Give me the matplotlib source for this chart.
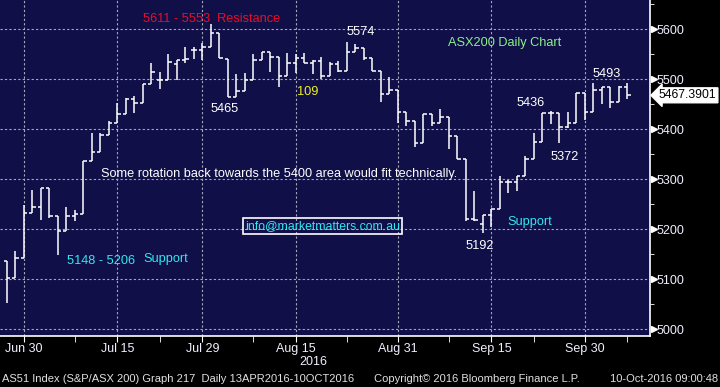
import numpy as np
import pandas as pd
import matplotlib
matplotlib.use('Agg')
import matplotlib.pyplot as plt
from matplotlib.transforms import blended_transform_factory

# daily bars, AS51 index, 28 Jun 2016 - 7 Oct 2016
dates = pd.bdate_range('2016-06-28', '2016-10-07')
opens = [5136, 5102, 5142, 5232, 5244, 5282, 5226, 5196, 5226, 5230,
         5336, 5354, 5388, 5412, 5430, 5460, 5452, 5490, 5498, 5498,
         5530, 5538, 5558, 5558, 5564, 5592, 5540, 5464, 5476, 5498,
         5538, 5554, 5544, 5506, 5532, 5542, 5532, 5536, 5506, 5530,
         5516, 5554, 5562, 5542, 5516, 5470, 5478, 5434, 5416, 5372,
         5430, 5412, 5424, 5386, 5340, 5220, 5210, 5228, 5240, 5294,
         5294, 5306, 5340, 5374, 5432, 5432, 5404, 5412, 5472, 5434,
         5478, 5484, 5454, 5484]
highs = [5136, 5156, 5248, 5278, 5282, 5282, 5226, 5244, 5238, 5336,
         5392, 5392, 5416, 5452, 5462, 5466, 5490, 5532, 5514, 5550,
         5538, 5564, 5564, 5572, 5611, 5592, 5540, 5510, 5512, 5550,
         5554, 5554, 5544, 5552, 5550, 5552, 5538, 5544, 5534, 5536,
         5574, 5570, 5562, 5542, 5516, 5504, 5478, 5434, 5416, 5430,
         5430, 5440, 5424, 5386, 5340, 5276, 5228, 5240, 5306, 5298,
         5306, 5346, 5392, 5432, 5436, 5432, 5434, 5472, 5472, 5492,
         5484, 5484, 5486, 5493]
lows = [5052, 5102, 5142, 5232, 5218, 5222, 5148, 5196, 5216, 5230,
        5336, 5354, 5388, 5412, 5430, 5432, 5452, 5490, 5480, 5498,
        5498, 5532, 5540, 5538, 5564, 5542, 5465, 5464, 5476, 5498,
        5538, 5514, 5484, 5506, 5512, 5532, 5510, 5500, 5506, 5514,
        5516, 5554, 5538, 5516, 5454, 5470, 5412, 5406, 5364, 5372,
        5406, 5412, 5360, 5340, 5216, 5216, 5192, 5204, 5240, 5272,
        5276, 5306, 5340, 5374, 5410, 5372, 5402, 5412, 5418, 5434,
        5450, 5442, 5454, 5460]
closes = [5102, 5142, 5232, 5244, 5282, 5226, 5196, 5226, 5230, 5336,
          5354, 5388, 5412, 5430, 5460, 5452, 5490, 5514, 5498, 5534,
          5538, 5540, 5558, 5564, 5592, 5542, 5464, 5476, 5498, 5538,
          5554, 5544, 5506, 5532, 5542, 5532, 5536, 5506, 5530, 5516,
          5554, 5562, 5542, 5516, 5470, 5478, 5434, 5416, 5372, 5430,
          5412, 5424, 5386, 5340, 5220, 5218, 5228, 5240, 5294, 5294,
          5306, 5340, 5374, 5432, 5432, 5404, 5412, 5472, 5434, 5478,
          5484, 5454, 5484, 5467.3901]

major_days = ['2016-06-30', '2016-07-15', '2016-07-29', '2016-08-15',
              '2016-08-31', '2016-09-15', '2016-09-30']
major_labels = ['Jun 30', 'Jul 15', 'Jul 29', 'Aug 15', 'Aug 31', 'Sep 15', 'Sep 30']
minor_days = ['2016-07-08', '2016-07-22', '2016-08-08', '2016-08-23',
              '2016-09-08', '2016-09-22', '2016-10-07']
y_major = [5000, 5100, 5200, 5300, 5400, 5500, 5600]
y_minor = [5050, 5150, 5250, 5350, 5450, 5550, 5650]

NAVY = '#100f48'
FONT = 'Liberation Sans'
plt.rcParams['font.family'] = [FONT, 'DejaVu Sans']

fig = plt.figure(figsize=(7.2, 3.87), dpi=100, facecolor='black')
ax = fig.add_axes([0, 51 / 387, 650 / 720, 336 / 387])
ax.set_facecolor(NAVY)

x = np.arange(len(dates))
tick_w = 0.36
ax.vlines(x, lows, highs, color='white', lw=1.1)
ax.hlines(opens, x - tick_w, x, color='white', lw=1.1)
ax.hlines(closes, x, x + tick_w, color='white', lw=1.1)

ax.set_xlim(-0.82, 75.65)
ax.set_ylim(4986, 5658)

xmaj = [dates.get_loc(pd.Timestamp(d)) for d in major_days]
xmin = [dates.get_loc(pd.Timestamp(d)) for d in minor_days]
ax.set_xticks(xmaj)
ax.set_xticklabels(major_labels)
ax.set_xticks(xmin, minor=True)
ax.set_yticks(y_major)
ax.set_yticks(y_minor, minor=True)
ax.yaxis.tick_right()

ax.grid(True, which='major', color='#a8a8b8', ls=(0, (2, 2)), lw=0.8)
for s in ['left', 'top']:
    ax.spines[s].set_visible(False)
for s in ['right', 'bottom']:
    ax.spines[s].set_color('white')
    ax.spines[s].set_linewidth(1.2)

ax.tick_params(axis='x', which='both', direction='out', length=4, color='white',
               labelcolor='#f0f0ff', labelsize=9, pad=1)
ax.tick_params(axis='y', which='major', length=0, labelcolor='#f0f0ff',
               labelsize=9, pad=5)
ax.tick_params(axis='y', which='minor', direction='out', length=3, color='white')

# arrow markers on the price axis
tr = blended_transform_factory(ax.transAxes, ax.transData)
ax.plot([1.006] * len(y_major), y_major, ls='none', marker='>', ms=5,
        color='white', transform=tr, clip_on=False)

# last price box
ax.text(1.0135, closes[-1], '%.4f' % closes[-1], transform=tr, color='black',
        fontsize=8.8, va='center', ha='left',
        bbox=dict(boxstyle='larrow,pad=0.12', fc='white', ec='white'))

# annotations
fs = 9.2
ax.text(16.0, 5620, '5611 - 5553  Resistance', color='#e3102a', fontsize=fs, va='center')
ax.text(24.0, 5440, '5465', color='white', fontsize=fs, va='center')
ax.text(34.1, 5474, '109', color='#f0f020', fontsize=fs, va='center')
ax.text(40.0, 5594, '5574', color='white', fontsize=fs, va='center')
ax.text(51.9, 5572, 'ASX200 Daily Chart', color='#8cf08c', fontsize=fs, va='center')
ax.text(68.9, 5510, '5493', color='white', fontsize=fs, va='center')
ax.text(59.9, 5452, '5436', color='white', fontsize=fs, va='center')
ax.text(63.9, 5344, '5372', color='white', fontsize=fs, va='center')
ax.text(11.06, 5310, 'Some rotation back towards the 5400 area would fit technically.',
        color='white', fontsize=fs, va='center')
ax.text(28.0, 5206, 'info@marketmatters.com.au', color='#30e8f0', fontsize=8.8, va='center',
        bbox=dict(boxstyle='square,pad=0.15', fc='none', ec='white', lw=1.2))
ax.text(53.9, 5166, '5192', color='white', fontsize=fs, va='center')
ax.text(58.9, 5214, 'Support', color='#30e8f0', fontsize=fs, va='center')
ax.text(7.06, 5136, '5148 - 5206', color='#30e8f0', fontsize=fs, va='center')
ax.text(16.0, 5140, 'Support', color='#30e8f0', fontsize=fs, va='center')

# year and footer
fig.text(313 / 720, 1 - 362 / 387, '2016', color='#f0f0ff', fontsize=9, ha='center', va='center')
foot_y = 1 - 379 / 387
fig.text(2 / 720, foot_y, 'AS51 Index (S&P/ASX 200) Graph 217  Daily 13APR2016-10OCT2016',
         color='#e0e0e0', fontsize=8, va='center')
fig.text(374 / 720, foot_y, 'Copyright\u00a9 2016 Bloomberg Finance L.P.',
         color='#e0e0e0', fontsize=8, va='center')
fig.text(718 / 720, foot_y, '10-Oct-2016 09:00:48', color='#e0e0e0', fontsize=8,
         va='center', ha='right')

fig.savefig('out.png', dpi=100, facecolor='black')
